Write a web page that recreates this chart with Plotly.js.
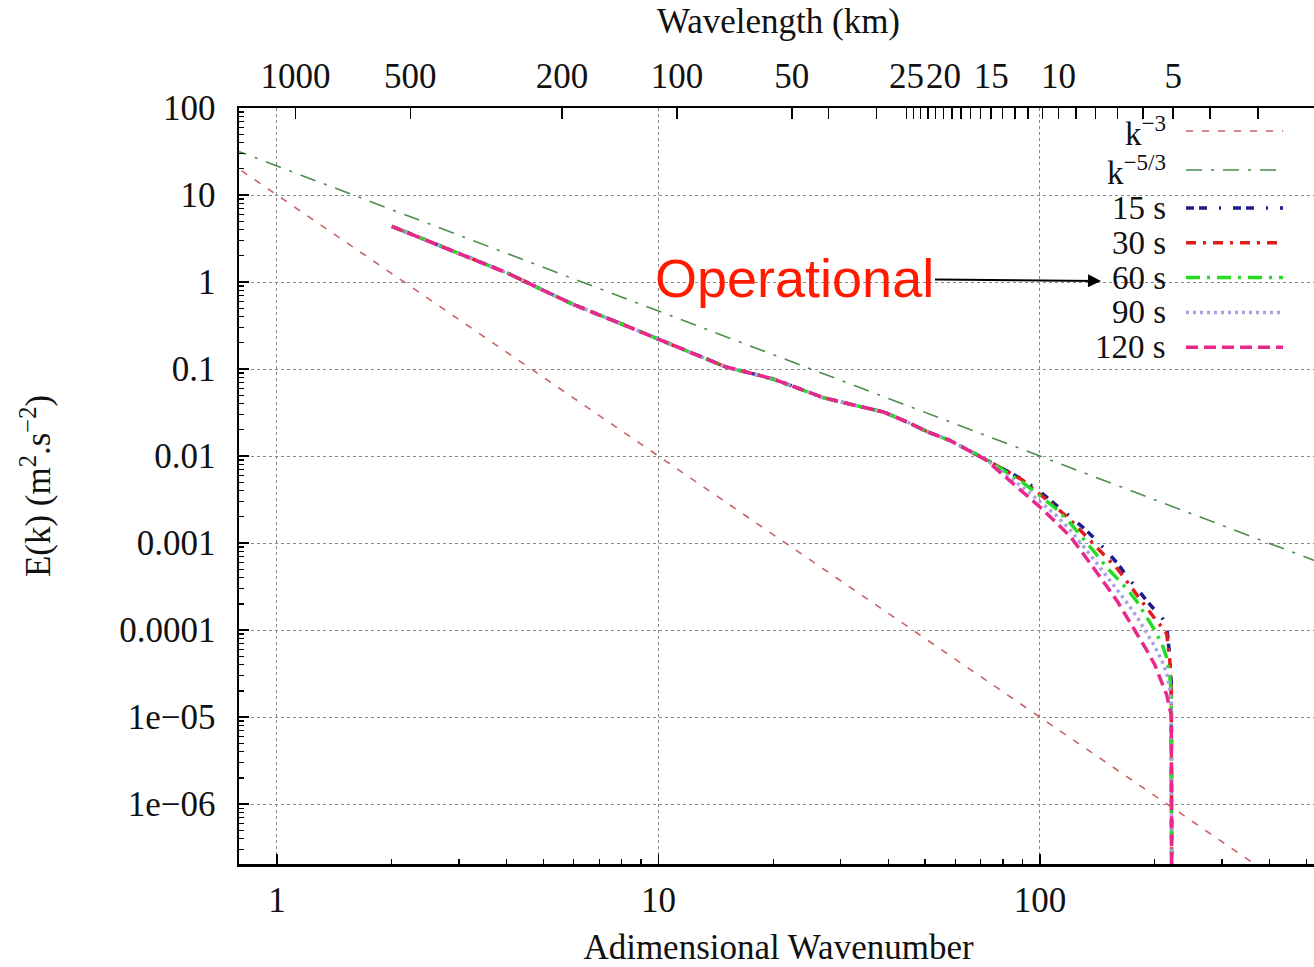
<!DOCTYPE html>
<html>
<head>
<meta charset="utf-8">
<script src="https://cdn.plot.ly/plotly-3.0.1.min.js"></script>
<style>
html,body{margin:0;padding:0;overflow:hidden;background:#fff;}
#chart{width:1318px;height:967px;}
</style>
</head>
<body>
<div id="chart"></div>
<script>
// ---- data ----
const k = [2,3,4,5,6,8,10,12,15,20,27,33,39,45,51,58,65,72,80,90,100,110,120,130,140,150,160,170,180,190,200,210,215,219,221,222];

const E_15s  = [4.37,2.1,1.28,0.80,0.55,0.33,0.22,0.16,0.106,0.077,0.047,0.038,0.032,0.0245,0.0188,0.0152,0.0116,0.0093,
  0.0072,0.0054,0.0039,0.00275,0.00201,0.0015,0.0011,0.0008,0.00058,0.0004,0.0003,0.00022,0.00017,0.000134,0.00011,0.00005,0.000024,1e-9];
const E_30s  = [4.37,2.1,1.28,0.80,0.55,0.33,0.22,0.16,0.106,0.077,0.047,0.038,0.032,0.0245,0.0188,0.0152,0.0116,0.0093,
  0.0071,0.0053,0.0037,0.0026,0.00186,0.0013,0.00092,0.00067,0.0005,0.00035,0.00025,0.00018,0.000136,0.000105,0.00009,0.000045,0.000022,1e-9];
const E_60s  = [4.37,2.1,1.28,0.80,0.55,0.33,0.22,0.16,0.106,0.076,0.047,0.038,0.032,0.0245,0.0188,0.0152,0.0116,0.0093,
  0.0069,0.0050,0.0035,0.0025,0.0017,0.00113,0.00076,0.00052,0.00038,0.00029,0.00021,0.000145,0.0001,0.000065,0.000048,0.00003,0.000018,1e-9];
const E_90s  = [4.37,2.1,1.28,0.80,0.55,0.33,0.22,0.16,0.106,0.077,0.047,0.038,0.032,0.0245,0.0188,0.0152,0.0116,0.0092,
  0.0065,0.0044,0.0030,0.0021,0.00142,0.00093,0.00061,0.00041,0.000285,0.0002,0.00014,0.000096,0.000065,0.000042,0.000032,0.000021,0.000015,1e-9];
const E_120s = [4.37,2.1,1.28,0.80,0.55,0.33,0.22,0.16,0.106,0.077,0.047,0.038,0.032,0.0245,0.0188,0.0152,0.0116,0.0091,
  0.0061,0.0039,0.0026,0.00174,0.0012,0.00075,0.000485,0.000315,0.00021,0.000136,0.000088,0.00006,0.00004,0.000024,0.000018,0.0000125,0.0000105,1e-9];

// reference slopes, points read on the drawn lines
const kRef  = [0.5, 1, 10, 100, 1000];
const E_k3  = [80, 10, 0.01, 1e-5, 1e-8];
const E_k53 = [68.4, 21.5, 0.464, 0.01, 0.000215];

// top axis: wavelengths (km)
const domainKm = 1118;
const waveTicks = [1000,500,200,100,50,40,30,25,24,23,22,21,20,19,18,17,16,15,14,13,12,11,10,9,8,7,6,5,4,3];
const waveLabels = [1000,500,200,100,50,25,20,15,10,5];

const yTickVals = [1e-6,1e-5,1e-4,1e-3,1e-2,0.1,1,10,100];
const yTickText = ['1e\u221206','1e\u221205','0.0001','0.001','0.01','0.1','1','10','100'];

const seriesNames = ['15 s','30 s','60 s','90 s','120 s'];
const seriesData = [E_15s,E_30s,E_60s,E_90s,E_120s];
const seriesColors = ['#1c1c8c','#e01c1c','#22dd22','#a8a0e0','#e8288c'];
const seriesDash = ['8px,5px,8px,12px,2px,12px','10px,7px,3px,7px','14px,7px,3px,7px','3px,4px','12px,6px'];

// ---- build ----
const serif = 'Liberation Serif, Times New Roman, serif';
const fontT = {family: serif, size: 35, color: '#111'};
const fontL = {family: serif, size: 33, color: '#111'};

const traces = [];
traces.push({x: kRef, y: E_k53, mode:'lines', line:{color:'#4c8c4c', width:1.6, dash:'16px,9px,3px,9px'}, showlegend:false, hoverinfo:'skip'});
traces.push({x: kRef, y: E_k3, xaxis:'x2', mode:'lines', line:{color:'#c86464', width:1.6, dash:'7px,9px'}, showlegend:false, hoverinfo:'skip'});
for (let i=0;i<seriesNames.length;i++){
  traces.push({x:k, y:seriesData[i], mode:'lines', name:seriesNames[i],
    line:{color:seriesColors[i], width:3.5, dash:seriesDash[i]}, showlegend:false});
}

const minorX = [];
for (let d of [1,10,100]) for (let m=2;m<=9;m++) if (d*m<=530) minorX.push(d*m);
const minorY = [];
for (let e=-7;e<=1;e++) for (let m=2;m<=9;m++) minorY.push(m*Math.pow(10,e));

const topVals = waveTicks.map(w => domainKm / w);
const topText = waveTicks.map(w => waveLabels.includes(w) ? String(w) : '');

const xr = [-0.0996, 2.729];
const yr = [-6.688, 2];

// pixel helpers for overlay elements (plot area: x 239..1318, y 108..864)
const px = v => (v-239)/1079;
const py = v => (864-v)/756;

const legendRows = [
  {label:'k<sup>\u22123</sup>', y:131, color:'#c86464', dash:'7px,9px', w:1.6},
  {label:'k<sup>\u22125/3</sup>', y:170, color:'#4c8c4c', dash:'16px,9px,3px,9px', w:1.6}
];
for (let i=0;i<seriesNames.length;i++){
  legendRows.push({label:seriesNames[i], y:208+i*34.8, color:seriesColors[i], dash:seriesDash[i], w:3.5});
}

const shapes = [{type:'rect', xref:'paper', yref:'paper', x0:px(1088), x1:px(1318), y0:py(362), y1:py(111),
  fillcolor:'#fff', line:{width:0}, layer:'between'}];
const annotations = [];
legendRows.forEach(r => {
  shapes.push({type:'line', xref:'paper', yref:'paper', x0:px(1186), x1:px(1283), y0:py(r.y), y1:py(r.y),
    line:{color:r.color, width:r.w, dash:r.dash}});
  annotations.push({xref:'paper', yref:'paper', x:px(1168), y:py(r.y), xanchor:'right', yanchor:'middle',
    text:r.label, showarrow:false, font:fontL});
});
annotations.push({xref:'paper', yref:'paper', x:px(1101), y:py(281), text:'Operational',
  showarrow:true, ax:-307, ay:-3, arrowhead:2, arrowsize:1.3, arrowwidth:2, arrowcolor:'#000', standoff:0,
  font:{family:'Liberation Sans, Arial, sans-serif', size:54, color:'#ff1a00'}});

const layout = {
  width:1318, height:967,
  margin:{l:239, r:0, t:108, b:103},
  paper_bgcolor:'#fff', plot_bgcolor:'#fff',
  showlegend:false,
  xaxis:{type:'log', range:xr, tickvals:[1,10,100], ticktext:['1','10','100'],
    ticks:'inside', ticklen:10, tickwidth:1.5, tickcolor:'#000',
    minor:{tickvals:minorX, ticks:'inside', ticklen:5, tickwidth:1.2, tickcolor:'#000', showgrid:false},
    showline:true, linecolor:'#000', linewidth:2.5, mirror:true,
    showgrid:true, gridcolor:'#888', griddash:'dot', gridwidth:1, zeroline:false,
    tickfont:fontT, ticklabelstandoff:3, tickangle:0,
    title:{text:'Adimensional Wavenumber', font:fontT, standoff:25}},
  xaxis2:{type:'log', range:xr, overlaying:'x', side:'top', anchor:'y',
    tickvals:topVals, ticktext:topText, ticks:'inside', ticklen:11, tickwidth:1.5, tickcolor:'#000',
    showline:false, showgrid:false, zeroline:false, tickfont:fontT, ticklabelstandoff:12, tickangle:0,
    title:{text:'Wavelength (km)', font:fontT, standoff:12}},
  yaxis:{type:'log', range:yr, tickvals:yTickVals, ticktext:yTickText,
    ticks:'inside', ticklen:10, tickwidth:1.5, tickcolor:'#000',
    minor:{tickvals:minorY, ticks:'inside', ticklen:5, tickwidth:1.2, tickcolor:'#000', showgrid:false},
    showline:true, linecolor:'#000', linewidth:2.5, mirror:true,
    showgrid:true, gridcolor:'#888', griddash:'dot', gridwidth:1, zeroline:false,
    tickfont:fontT, ticklabelstandoff:14,
    title:{text:'E(k) (m<sup>2</sup>.s<sup>\u22122</sup>)', font:fontT, standoff:58}},
  shapes:shapes,
  annotations:annotations
};

Plotly.newPlot('chart', traces, layout, {displayModeBar:false, staticPlot:true});
</script>
</body>
</html>
